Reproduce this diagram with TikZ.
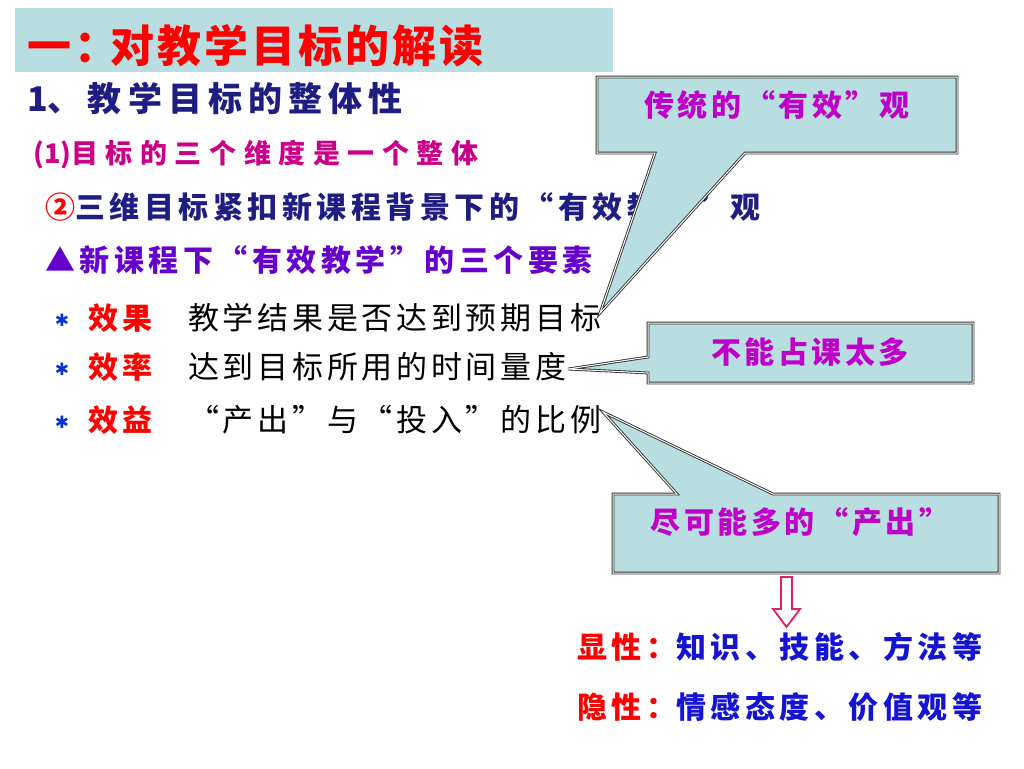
\documentclass[tikz,border=0pt]{standalone}
\usepackage{fontspec}
\setmainfont{Noto Sans CJK SC}
\newfontfamily\wide{Noto Sans CJK SC}[LetterSpace=15]
\newfontfamily\plainsp{Noto Sans CJK SC}[LetterSpace=12]
\newfontfamily\wider{Noto Sans CJK SC}[LetterSpace=18]
\newfontfamily\widest{Noto Sans CJK SC}[LetterSpace=28]
\newfontfamily\tight{Noto Sans CJK SC}[LetterSpace=7]
\newfontfamily\sym{DejaVu Sans}
\usetikzlibrary{positioning}
\definecolor{tealbg}{RGB}{184,222,225}
\definecolor{navy}{RGB}{30,30,130}
\definecolor{mag}{RGB}{204,0,136}
\definecolor{purp}{RGB}{102,0,204}
\definecolor{callc}{RGB}{190,0,200}
\definecolor{dblue}{RGB}{20,20,210}
\definecolor{starb}{RGB}{0,50,210}
\definecolor{arrowc}{RGB}{232,30,90}
\tikzset{
 line/.style={font=\wide\bfseries\fontsize{30}{32}\selectfont,anchor=west,inner sep=0pt},
 plain/.style={font=\plainsp\fontsize{31}{32}\selectfont,anchor=west,inner sep=0pt},
 callout/.style={draw=black!80,line width=0.9pt,double=white,double distance=1pt,fill=tealbg,line join=miter},
 calltxt/.style={font=\plainsp\bfseries\fontsize{30}{32}\selectfont,text=callc,inner sep=0pt}
}
\begin{document}
\begin{tikzpicture}[x=1pt,y=-1pt]
\useasboundingbox (0,0) rectangle (1024,768);
% title bar
\fill[tealbg] (15,8) rectangle (613,72);
\node[anchor=west,inner sep=0pt,font=\tight\bfseries\fontsize{44}{46}\selectfont,text=red] (title) at (27,46) {一：\kern-8pt 对教学目标的解读};

\node[anchor=west,inner sep=0pt,font=\wider\bfseries\fontsize{34}{36}\selectfont,text=navy] (whole) at (27,98) {{\tight 1}、教学目标的整体性};
\node[anchor=west,inner sep=0pt,font=\bfseries\fontsize{27}{28}\selectfont,text=mag] (dim) at (33,155) {(1){\widest 目标的三个维度是一个整体}};
\node[line,text=navy] (bg) at (45,207) {\textcolor{red}{②}三维目标紧扣新课程背景下的“有效教学”观};
\node[line,text=purp] (elem) at (45,260) {▲新课程下“有效教学”的三个要素};

% three elements
\foreach \y/\k/\t/\n in {318/效果/教学结果是否达到预期目标/1,367/效率/达到目标所用的时间量度/2,420/效益/“产出”与“投入”的比例/3} {
 \node[text=starb,inner sep=0pt,font=\sym\bfseries\fontsize{17}{17}\selectfont] (s\n) at (62,\y+2) {✱};
 \node[line,text=red] (k\n) at (88,\y) {\k};
 \node[plain] (d\n) at (188,\y) {\t};
}

% callouts
\coordinate (tipA) at (600,313);
\draw[callout] (597,77) -- (957,77) -- (957,153) -- (745,153) -- (tipA) -- (655,153) -- (597,153) -- cycle;
\node[calltxt] (ctA) at (777,105) {传统的“有效”观};

\coordinate (tipB) at (568,369);
\draw[callout] (648,323) -- (973,323) -- (973,383) -- (648,383) -- (648,373) -- (tipB) -- (648,357) -- cycle;
\node[calltxt] (ctB) at (810,352) {不能占课太多};

\coordinate (tipC) at (603,412);
\draw[callout] (613,494) -- (677,494) -- (tipC) -- (773,494) -- (999,494) -- (999,573) -- (613,573) -- cycle;
\node[calltxt] (ctC) at (800,522) {尽可能多的“产出”};

% down arrow
\draw[arrowc,line width=1.8pt,fill=white,line join=miter] (781,577) -- (792,577) -- (792,609) -- (800,609) -- (786.5,627) -- (773,609) -- (781,609) -- cycle;

\node[line,text=dblue] (expl) at (577,647) {\textcolor{red}{显性：}知识、技能、方法等};
\node[line,text=dblue] (impl) at (577,707) {\textcolor{red}{隐性：}情感态度、价值观等};
\end{tikzpicture}
\end{document}
